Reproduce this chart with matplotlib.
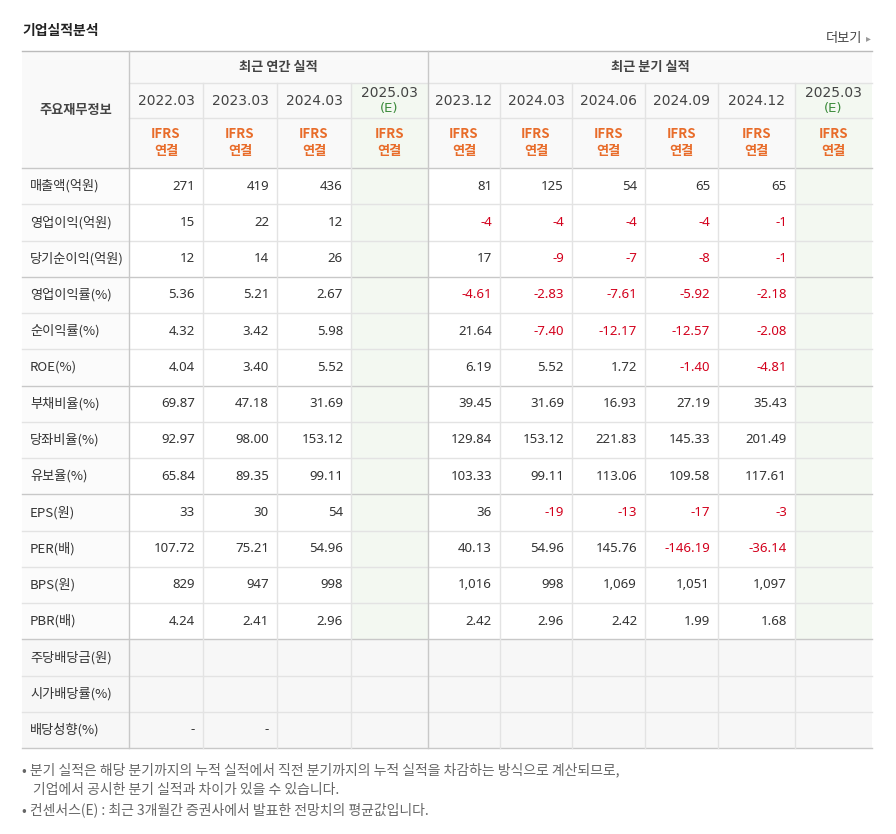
import matplotlib
matplotlib.use("Agg")
import matplotlib.pyplot as plt
from matplotlib.patches import Rectangle
from matplotlib import font_manager

names = {f.name for f in font_manager.fontManager.ttflist}
cjk = next((n for n in ["Noto Sans CJK KR", "Noto Sans CJK JP", "Noto Sans CJK SC", "Noto Sans CJK TC"] if n in names), "DejaVu Sans")
plt.rcParams["font.family"] = cjk

row_labels = ["매출액(억원)", "영업이익(억원)", "당기순이익(억원)", "영업이익률(%)", "순이익률(%)", "ROE(%)",
              "부채비율(%)", "당좌비율(%)", "유보율(%)", "EPS(원)", "PER(배)", "BPS(원)", "PBR(배)",
              "주당배당금(원)", "시가배당률(%)", "배당성향(%)"]
annual_periods = ["2022.03", "2023.03", "2024.03", "2025.03\n(E)"]
quarter_periods = ["2023.12", "2024.03", "2024.06", "2024.09", "2024.12", "2025.03\n(E)"]
annual_values = [
    ["271", "419", "436", ""], ["15", "22", "12", ""], ["12", "14", "26", ""],
    ["5.36", "5.21", "2.67", ""], ["4.32", "3.42", "5.98", ""], ["4.04", "3.40", "5.52", ""],
    ["69.87", "47.18", "31.69", ""], ["92.97", "98.00", "153.12", ""], ["65.84", "89.35", "99.11", ""],
    ["33", "30", "54", ""], ["107.72", "75.21", "54.96", ""], ["829", "947", "998", ""],
    ["4.24", "2.41", "2.96", ""], ["", "", "", ""], ["", "", "", ""], ["-", "-", "", ""],
]
quarter_values = [
    ["81", "125", "54", "65", "65", ""], ["-4", "-4", "-4", "-4", "-1", ""], ["17", "-9", "-7", "-8", "-1", ""],
    ["-4.61", "-2.83", "-7.61", "-5.92", "-2.18", ""], ["21.64", "-7.40", "-12.17", "-12.57", "-2.08", ""],
    ["6.19", "5.52", "1.72", "-1.40", "-4.81", ""],
    ["39.45", "31.69", "16.93", "27.19", "35.43", ""], ["129.84", "153.12", "221.83", "145.33", "201.49", ""],
    ["103.33", "99.11", "113.06", "109.58", "117.61", ""],
    ["36", "-19", "-13", "-17", "-3", ""], ["40.13", "54.96", "145.76", "-146.19", "-36.14", ""],
    ["1,016", "998", "1,069", "1,051", "1,097", ""], ["2.42", "2.96", "2.42", "1.99", "1.68", ""],
    ["", "", "", "", "", ""], ["", "", "", "", "", ""], ["", "", "", "", "", ""],
]

W, H = 896, 834
fig = plt.figure(figsize=(W / 100, H / 100), dpi=100)
ax = fig.add_axes([0, 0, 1, 1])
ax.set_xlim(0, W); ax.set_ylim(H, 0); ax.axis("off")

xs = [22, 129, 203, 277, 351, 428, 500, 572, 645, 718, 795, 872]
y_top, y_h1, y_h2, y_h3 = 51, 83, 118, 168
y_end = 748
nrows = len(row_labels)
rh = (y_end - y_h3) / nrows
ys = [y_h3 + i * rh for i in range(nrows + 1)]

lc = "#e3e3e3"; dark = "#c8c8c8"
green = "#f3f8f1"; gray = "#f7f7f7"
red = "#d3001c"; orange = "#e86c2a"; txt = "#333333"

ax.add_patch(Rectangle((xs[0], y_top), xs[-1] - xs[0], y_h3 - y_top, color="#f9f9f9", lw=0))
ax.add_patch(Rectangle((xs[0], y_h3), xs[1] - xs[0], y_end - y_h3, color="#fbfbfb", lw=0))
for ci in (4, 10):
    ax.add_patch(Rectangle((xs[ci], y_h1), xs[ci + 1] - xs[ci], y_end - y_h1, color=green, lw=0))
ax.add_patch(Rectangle((xs[0], ys[13]), xs[-1] - xs[0], y_end - ys[13], color=gray, lw=0))

ax.plot([xs[0], xs[-1]], [y_top, y_top], color="#bbbbbb", lw=1)
ax.plot([xs[1], xs[-1]], [y_h1, y_h1], color=lc, lw=1)
ax.plot([xs[1], xs[-1]], [y_h2, y_h2], color=lc, lw=1)
ax.plot([xs[0], xs[-1]], [y_h3, y_h3], color=dark, lw=1)
for i in range(1, nrows + 1):
    col = dark if i in (3, 6, 9, 13, nrows) else lc
    ax.plot([xs[0], xs[-1]], [ys[i], ys[i]], color=col, lw=1)
for i, x in enumerate(xs[1:-1], start=1):
    if i in (1, 5):
        ax.plot([x, x], [y_top, y_end], color=dark, lw=1)
    else:
        ax.plot([x, x], [y_h1, y_end], color=lc, lw=1)

ax.text(22, 31, "기업실적분석", fontsize=10, fontweight="bold", color="#222", va="center")
ax.text(862, 38, "더보기", fontsize=9.5, color="#444", ha="right", va="center")
ax.text(866, 38, "▸", fontsize=7, color="#999", ha="left", va="center", family="DejaVu Sans")

ax.text((xs[0] + xs[1]) / 2, (y_top + y_h3) / 2, "주요재무정보", fontsize=9.5, fontweight="bold", color="#444", ha="center", va="center")
ax.text((xs[1] + xs[5]) / 2, (y_top + y_h1) / 2, "최근 연간 실적", fontsize=9.5, fontweight="bold", color="#444", ha="center", va="center")
ax.text((xs[5] + xs[-1]) / 2, (y_top + y_h1) / 2, "최근 분기 실적", fontsize=9.5, fontweight="bold", color="#444", ha="center", va="center")

periods = annual_periods + quarter_periods
for j, p in enumerate(periods):
    cx = (xs[j + 1] + xs[j + 2]) / 2
    if "\n" in p:
        a, b = p.split("\n")
        ax.text(cx, 93, a, fontsize=10, color="#444", ha="center", va="center", family="DejaVu Sans")
        ax.text(cx, 108, b, fontsize=9.5, color="#3a8a3a", ha="center", va="center", family="DejaVu Sans")
    else:
        ax.text(cx, (y_h1 + y_h2) / 2, p, fontsize=10, color="#444", ha="center", va="center", family="DejaVu Sans")
    ax.text(cx, 134, "IFRS", fontsize=9.5, fontweight="bold", color=orange, ha="center", va="center")
    ax.text(cx, 151, "연결", fontsize=9.5, fontweight="bold", color=orange, ha="center", va="center")

for i, lab in enumerate(row_labels):
    cy = (ys[i] + ys[i + 1]) / 2
    ax.text(30, cy, lab, fontsize=9.5, color="#333", ha="left", va="center")
    vals = annual_values[i] + quarter_values[i]
    for j, v in enumerate(vals):
        if not v:
            continue
        c = red if v.startswith("-") and len(v) > 1 and j >= 4 else txt
        ax.text(xs[j + 2] - 8, cy, v, fontsize=9.5, color=c, ha="right", va="center", family="Noto Sans")

ax.text(22, 770, "• 분기 실적은 해당 분기까지의 누적 실적에서 직전 분기까지의 누적 실적을 차감하는 방식으로 계산되므로,",
        fontsize=10, color="#666", va="center")
ax.text(33, 790, "기업에서 공시한 분기 실적과 차이가 있을 수 있습니다.", fontsize=10, color="#666", va="center")
ax.text(22, 810, "• 컨센서스(E) : 최근 3개월간 증권사에서 발표한 전망치의 평균값입니다.", fontsize=10, color="#666", va="center")

fig.savefig("out.png", dpi=100)
